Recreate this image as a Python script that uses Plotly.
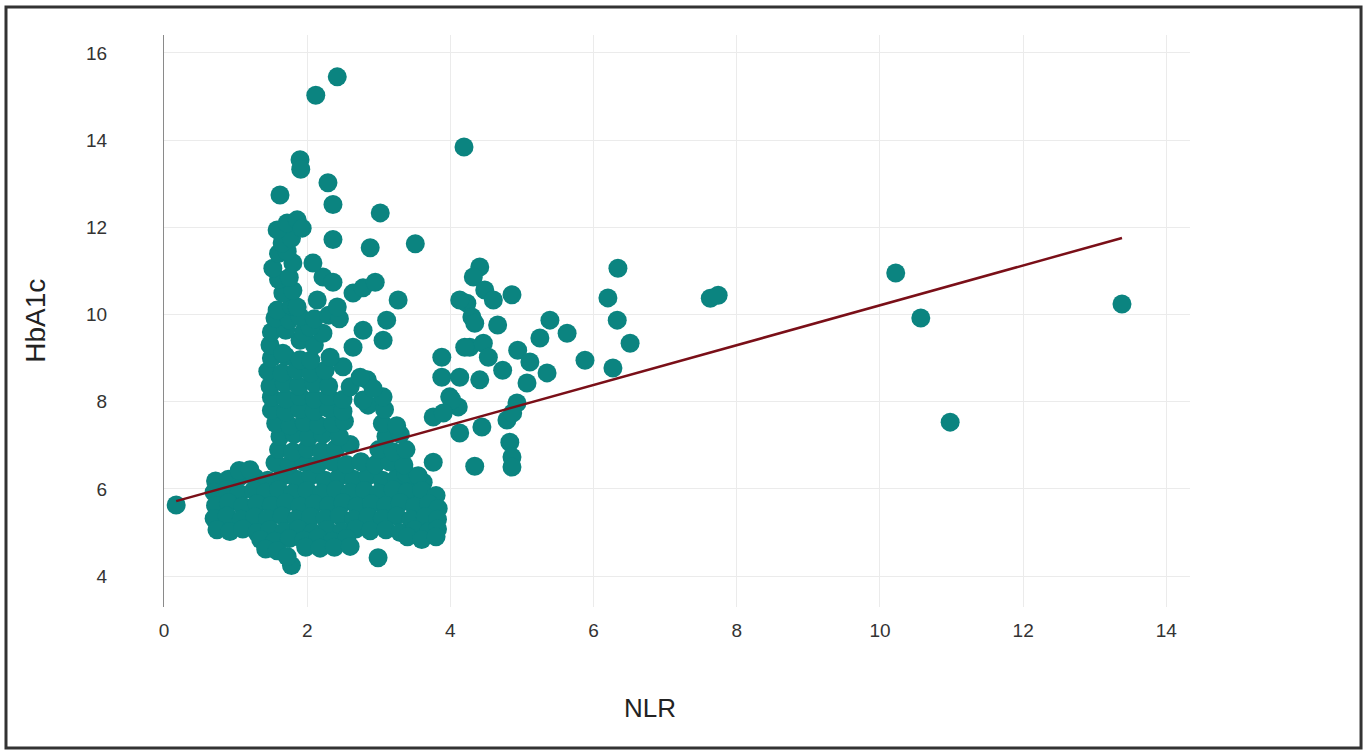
import plotly.graph_objects as go

# ---- data (NLR, HbA1c) ----
blob_low = [
    (0.72,6.18),(0.9,6.22),(1.08,6.3),(1.27,6.26),(1.45,6.2),(1.65,6.28),(1.85,6.22),(2.05,6.3),
    (2.25,6.2),(2.45,6.28),(2.65,6.22),(2.85,6.3),(3.05,6.2),(3.25,6.25),(3.45,6.18),(3.62,6.15),
    (1.05,6.42),(1.2,6.44),(3.38,6.36),(3.55,6.3),
    (0.7,5.92),(0.88,5.98),(1.05,5.9),(1.25,5.96),(1.42,5.92),(1.6,5.98),(1.8,5.9),(2.0,5.96),
    (2.2,5.9),(2.4,5.98),(2.6,5.92),(2.8,5.96),(3.0,5.9),(3.2,5.98),(3.4,5.92),(3.6,5.96),(3.8,5.85),
    (0.72,5.62),(0.9,5.68),(1.1,5.6),(1.3,5.66),(1.5,5.62),(1.7,5.68),(1.9,5.6),(2.1,5.66),
    (2.3,5.62),(2.5,5.68),(2.7,5.6),(2.9,5.66),(3.1,5.62),(3.3,5.68),(3.5,5.6),(3.7,5.66),(3.83,5.55),
    (0.7,5.32),(0.88,5.38),(1.08,5.3),(1.27,5.36),(1.45,5.32),(1.65,5.38),(1.85,5.3),(2.05,5.36),
    (2.25,5.32),(2.45,5.38),(2.65,5.3),(2.85,5.36),(3.05,5.32),(3.25,5.38),(3.45,5.3),(3.65,5.36),(3.82,5.3),
    (0.74,5.06),(0.92,5.02),(1.1,5.08),(1.3,5.0),(1.48,5.06),(1.68,5.02),(1.88,5.08),(2.08,5.0),
    (2.28,5.06),(2.48,5.02),(2.68,5.08),(2.88,5.04),(3.1,5.06),(3.3,5.0),(3.5,5.06),(3.7,5.02),(3.82,5.08),
    (1.35,4.84),(1.55,4.8),(1.75,4.86),(1.95,4.82),(2.15,4.88),(2.35,4.8),(2.55,4.86),
    (3.4,4.9),(3.6,4.84),(3.8,4.9),
    (1.42,4.62),(1.58,4.58),(1.98,4.66),(2.18,4.64),(2.38,4.66),(2.6,4.68),
    (1.78,4.24),(1.72,4.45),(2.99,4.42),
]

columns = [
    (1.55,6.6),(1.75,6.55),(1.95,6.62),(2.15,6.56),(2.35,6.62),(2.55,6.56),(2.75,6.62),(2.95,6.55),(3.15,6.62),(3.35,6.55),
    (1.6,6.9),(1.8,6.85),(2.0,6.92),(2.2,6.86),(2.4,6.92),(2.6,7.02),(3.0,6.9),(3.2,6.85),(3.38,6.9),
    (1.62,7.2),(1.82,7.25),(2.02,7.18),(2.22,7.25),(2.45,7.2),(3.1,7.2),(3.3,7.25),
    (1.56,7.5),(1.76,7.45),(1.96,7.52),(2.16,7.46),(2.36,7.5),(2.52,7.55),(3.05,7.5),(3.25,7.45),
    (1.5,7.8),(1.7,7.76),(1.9,7.82),(2.1,7.78),(2.3,7.84),(2.5,7.78),(2.85,7.92),(3.08,7.82),
    (1.5,8.1),(1.7,8.06),(1.9,8.12),(2.1,8.06),(2.3,8.12),(2.5,8.05),(2.78,8.04),(3.06,8.11),
    (1.48,8.36),(1.68,8.42),(1.88,8.36),(2.1,8.42),(2.3,8.36),(2.6,8.34),(2.84,8.5),(2.92,8.3),
    (1.45,8.7),(1.65,8.66),(1.85,8.72),(2.05,8.66),(2.25,8.72),(2.5,8.8),(2.74,8.56),
    (1.5,9.0),(1.7,9.04),(1.9,8.96),(2.05,8.95),(2.32,9.02),(2.64,9.25),
    (1.48,9.3),(1.66,9.11),(1.9,9.41),(2.1,9.3),(2.22,9.57),
    (1.5,9.6),(1.7,9.64),(1.95,9.6),(2.04,9.71),(2.78,9.64),
    (1.55,9.92),(1.75,9.88),(1.9,9.95),(2.1,9.9),(2.3,9.98),(2.45,9.9),
    (1.58,10.1),(1.78,10.2),(1.86,10.17),(2.14,10.33),(2.42,10.17),
    (1.66,10.49),(1.8,10.55),(2.64,10.49),(2.78,10.61),
    (1.6,10.8),(1.75,10.85),(2.22,10.86),(2.36,10.74),(2.95,10.74),
    (1.52,11.06),(1.8,11.18),(2.08,11.18),
    (1.6,11.4),(1.72,11.45),(1.65,11.64),(1.78,11.75),
    (1.58,11.94),(1.72,12.1),(1.86,12.17),(1.93,11.98),
]

upper_points = [
    (2.12,15.03),(2.42,15.45),(4.19,13.84),(1.9,13.55),(1.91,13.33),(1.62,12.74),
    (2.29,13.02),(2.36,12.52),(3.02,12.33),(2.36,11.72),(2.88,11.53),(3.51,11.62),
    (3.27,10.33),(3.11,9.87),(3.06,9.41),
]

mid_group = [
    (4.41,11.09),(4.32,10.86),(4.48,10.56),(4.6,10.33),(4.23,10.26),(4.13,10.33),(4.86,10.45),
    (4.30,9.94),(4.34,9.8),(4.66,9.76),(4.27,9.25),(4.46,9.34),(4.53,9.02),(4.2,9.25),(3.88,9.02),
    (3.88,8.56),(4.13,8.56),(4.41,8.5),(4.73,8.72),(4.94,9.18),(5.11,8.91),(5.35,8.66),(5.07,8.43),
    (3.99,8.11),(4.11,7.88),(4.02,8.04),(3.76,7.65),(3.9,7.74),(4.13,7.28),(4.44,7.42),(4.79,7.58),
    (4.93,7.97),(4.87,7.74),(4.83,7.07),(4.86,6.73),(3.76,6.61),(4.34,6.52),(4.86,6.5),
]

far_points = [
    (0.17,5.63),
    (5.39,9.87),(5.63,9.57),(5.25,9.46),(6.34,11.06),(6.2,10.38),(6.33,9.87),(6.51,9.34),
    (5.88,8.95),(6.27,8.77),(7.63,10.37),(7.74,10.44),
    (10.22,10.95),(10.57,9.92),(10.98,7.53),(13.38,10.24),
]

# fitted regression line HbA1c = intercept + slope * NLR
fit_intercept = 5.64
fit_slope = 0.457

x_ticks = [0, 2, 4, 6, 8, 10, 12, 14]
y_ticks = [4, 6, 8, 10, 12, 14, 16]

# ---- build ----
all_pts = blob_low + columns + upper_points + mid_group + far_points
nlr = [p[0] for p in all_pts]
hba1c = [p[1] for p in all_pts]

x_min, x_max = min(nlr), max(nlr)
line_x = [x_min, x_max]
line_y = [fit_intercept + fit_slope * v for v in line_x]

fig = go.Figure()
fig.add_trace(go.Scatter(
    x=nlr, y=hba1c, mode="markers",
    marker=dict(color="#0b8480", size=19, line=dict(width=0)),
    showlegend=False, hoverinfo="x+y",
))
fig.add_trace(go.Scatter(
    x=line_x, y=line_y, mode="lines",
    line=dict(color="#7a0f18", width=2.5),
    showlegend=False,
))

tick_font = dict(family="Liberation Sans, Arial, sans-serif", size=19, color="#333333")
xtitle_font = dict(family="Liberation Sans, Arial, sans-serif", size=26, color="#222222")
ytitle_font = dict(family="Liberation Sans, Arial, sans-serif", size=28, color="#222222")

fig.update_layout(
    width=1367, height=751,
    margin=dict(l=164, r=177, t=35, b=144),
    paper_bgcolor="white", plot_bgcolor="white",
    xaxis=dict(
        range=[0, 14.33], tickvals=x_ticks, showgrid=True, gridcolor="#ebebeb", gridwidth=1,
        zeroline=False, showline=False, tickfont=tick_font, ticks="", ticklabelstandoff=10,
    ),
    yaxis=dict(
        range=[3.29, 16.41], tickvals=y_ticks, showgrid=True, gridcolor="#ebebeb", gridwidth=1,
        zeroline=False, showline=True, linecolor="#8a8a8a", linewidth=1.2,
        tickfont=tick_font, ticks="", ticklabelstandoff=52,
    ),
    annotations=[
        dict(text="NLR", xref="paper", yref="paper", x=0.474, y=-0.177,
             showarrow=False, font=xtitle_font, xanchor="center", yanchor="middle"),
        dict(text="HbA1c", xref="paper", yref="paper", x=-0.126, y=0.5, textangle=-90,
             showarrow=False, font=ytitle_font, xanchor="center", yanchor="middle"),
    ],
    shapes=[
        dict(type="rect", xref="paper", yref="paper", x0=-0.154, x1=1.1667, y0=-0.2465, y1=1.049,
             line=dict(color="#333333", width=3), fillcolor="rgba(0,0,0,0)", layer="above"),
    ],
)

fig.write_html(
    "out.html",
    config={"displayModeBar": False},
    post_script="document.body.style.margin='0';document.body.style.overflow='hidden';",
)
